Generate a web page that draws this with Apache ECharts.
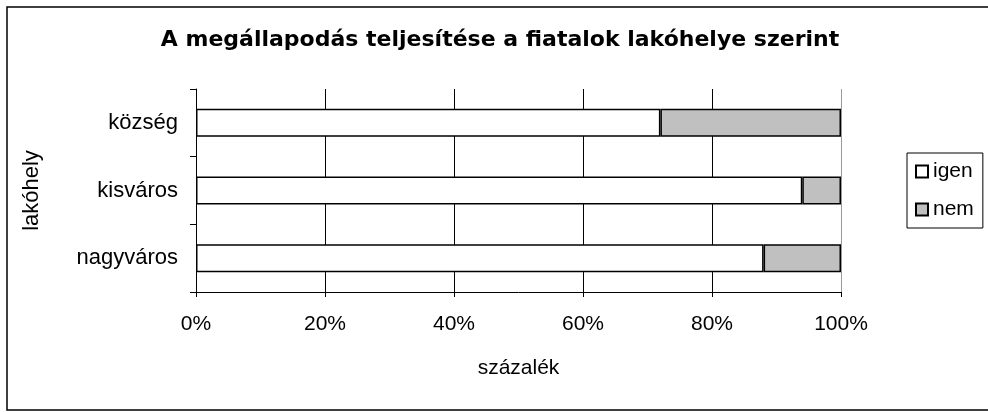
<!DOCTYPE html>
<html>
<head>
<meta charset="utf-8">
<style>
  html, body { margin: 0; padding: 0; background: #fff; }
  #chart { width: 988px; height: 412px; }
</style>
<script src="https://cdn.jsdelivr.net/npm/echarts@6/dist/echarts.min.js"></script>
</head>
<body>
<div id="chart"></div>
<script>
// lakóhely kategóriák (alulról felfelé)
var categories = ['nagyváros', 'kisváros', 'község'];
var igen = [88, 94, 72];
var nem = [12, 6, 28];
var tickLabels = ['0%', '20%', '40%', '60%', '80%', '100%'];

var font = '"Liberation Sans", Arial, sans-serif';
var myChart = echarts.init(document.getElementById('chart'));

var option = {
  backgroundColor: '#fff',
  animation: false,
  textStyle: { fontFamily: font },
  title: {
    text: 'A megállapodás teljesítése a fiatalok lakóhelye szerint',
    left: 495,
    textAlign: 'center',
    top: 24,
    textStyle: { fontFamily: '"DejaVu Sans", sans-serif', fontSize: 22, fontWeight: 'bold', color: '#000' }
  },
  graphic: [{
    type: 'rect',
    shape: { x: 7, y: 7, width: 1000, height: 403 },
    style: { fill: 'none', stroke: '#000', lineWidth: 1.5 },
    silent: true
  }],
  legend: {
    orient: 'vertical',
    left: 907,
    top: 153,
    padding: [8, 9, 8, 8],
    itemGap: 17,
    itemWidth: 12,
    itemHeight: 12,
    icon: 'rect',
    borderColor: '#000',
    borderWidth: 1,
    textStyle: { fontFamily: font, fontSize: 21, color: '#000' },
    data: ['igen', 'nem']
  },
  grid: { left: 196, right: 147, top: 89, bottom: 120 },
  xAxis: {
    type: 'value',
    min: 0,
    max: 100,
    interval: 20,
    name: 'százalék',
    nameLocation: 'middle',
    nameGap: 66,
    nameTextStyle: { fontFamily: font, fontSize: 21, color: '#000' },
    axisLine: { show: true, lineStyle: { color: '#000', width: 1 } },
    axisTick: { show: true, length: 5, lineStyle: { color: '#000' } },
    axisLabel: {
      margin: 22,
      fontFamily: font,
      fontSize: 21,
      color: '#000',
      formatter: function (v) { return tickLabels[Math.round(v / 20)]; }
    },
    splitLine: {
      show: true,
      lineStyle: { color: ['#000', '#000', '#000', '#000', '#000', '#999'], width: 1 }
    }
  },
  yAxis: {
    type: 'category',
    data: categories,
    name: 'lakóhely',
    nameLocation: 'middle',
    nameRotate: 90,
    nameGap: 153,
    nameTextStyle: { fontFamily: font, fontSize: 22, color: '#000' },
    axisLine: { show: true, lineStyle: { color: '#000', width: 1 } },
    axisTick: { show: true, length: 6, lineStyle: { color: '#000' } },
    axisLabel: { margin: 18, fontFamily: font, fontSize: 22, color: '#000' },
    splitLine: { show: false }
  },
  series: [
    {
      name: 'igen',
      type: 'bar',
      stack: 'total',
      barWidth: 28,
      data: igen,
      itemStyle: { color: '#fff', borderColor: '#000', borderWidth: 1.5 }
    },
    {
      name: 'nem',
      type: 'bar',
      stack: 'total',
      barWidth: 28,
      data: nem,
      itemStyle: { color: '#c0c0c0', borderColor: '#000', borderWidth: 1.5 }
    }
  ]
};

myChart.setOption(option);
</script>
</body>
</html>
